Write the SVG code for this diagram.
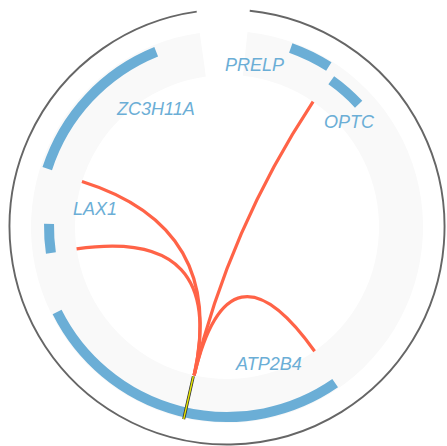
<svg xmlns="http://www.w3.org/2000/svg" width="447" height="446" viewBox="0 0 447 446">
<style>
.gene{fill:none;stroke:#6baed6;stroke-width:10;stroke-linecap:butt}
.lbl{font-family:"Liberation Sans",Arial,sans-serif;font-size:18px;font-style:italic;fill:#6baed6}
.chord{fill:none;stroke:#ff6347;stroke-width:3.2;stroke-linecap:butt}
</style>
<rect width="447" height="446" fill="#ffffff"/>
<path id="outer" d="M 249.73 10.69 A 217.5 217.5 0 1 1 196.73 11.62" fill="none" stroke="#666666" stroke-width="1.9"/>
<path id="track" d="M 247.49 32.07 A 196 196 0 1 1 199.72 32.91 L 205.85 76.48 A 152 152 0 1 0 242.89 75.83 Z" fill="#f9f9f9"/>
<g id="ZC3H11A">
<path class="gene" d="M 47.25 168.6 A 189 189 0 0 1 156.2 51.76"/>
<text class="lbl" x="117" y="115">ZC3H11A</text>
</g>
<g id="PRELP">
<path class="gene" d="M 290.74 48.01 A 190 190 0 0 1 328.81 66.58"/>
<text class="lbl" x="225" y="71">PRELP</text>
</g>
<g id="OPTC">
<path class="gene" d="M 331.27 80.28 A 180 180 0 0 1 358.64 104.24"/>
<text class="lbl" x="324" y="128">OPTC</text>
</g>
<g id="LAX1">
<path class="gene" d="M 50.91 253.0 A 178 178 0 0 1 49.03 223.89"/>
<text class="lbl" x="73" y="215">LAX1</text>
</g>
<g id="ATP2B4">
<path class="gene" d="M 335.16 383.21 A 190 190 0 0 1 57.11 312.07"/>
<text class="lbl" x="236" y="370">ATP2B4</text>
</g>
<g id="connectors">
<path class="chord" d="M 81.96 181.55 Q 227 227 194.1 375.4"/>
<path class="chord" d="M 76.59 248.94 Q 227 227 194.1 375.4"/>
<path class="chord" d="M 313.09 101.73 Q 229 229 194.1 375.4"/>
<path class="chord" d="M 314.62 351.21 Q 229 231 194.1 375.4"/>
</g>
<g id="highlight">
<line x1="193.36" y1="376.26" x2="183.69" y2="419.18" stroke="#333333" stroke-width="3"/>
<line x1="193.36" y1="376.26" x2="183.69" y2="419.18" stroke="#e8e800" stroke-width="1.4"/>
</g>
</svg>
